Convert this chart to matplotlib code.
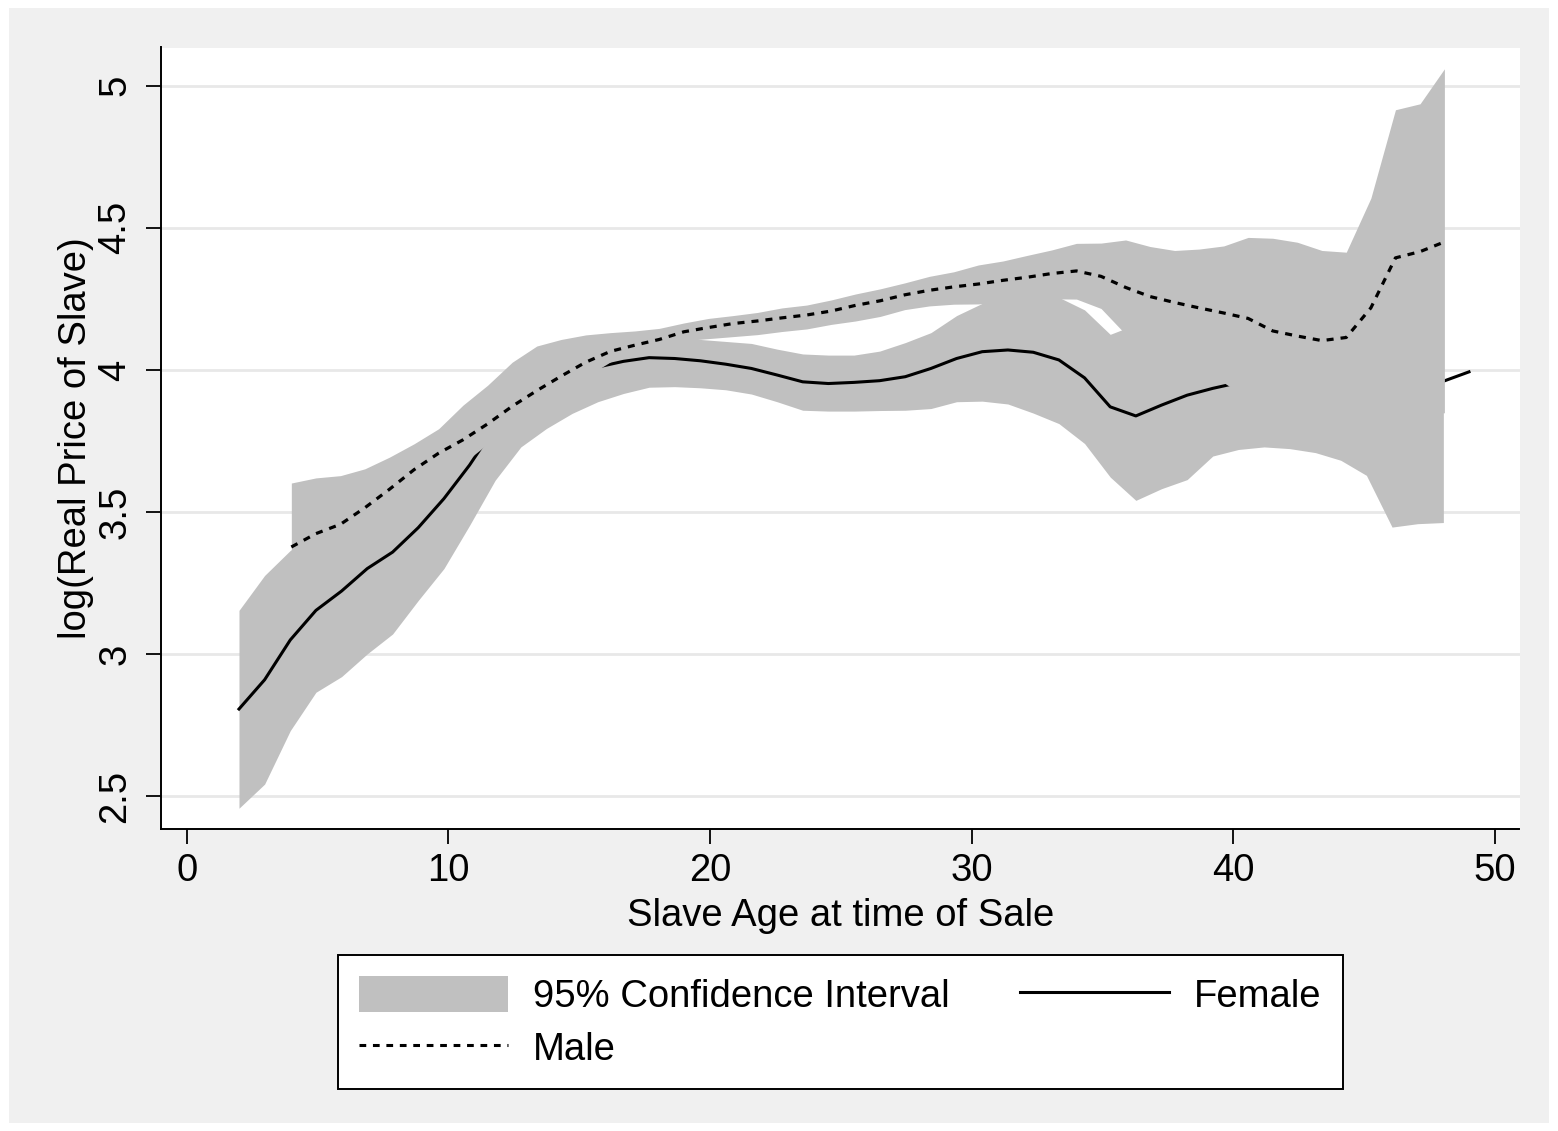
import numpy as np
import matplotlib
matplotlib.use("Agg")
import matplotlib.pyplot as plt
from matplotlib.patches import Rectangle, Patch
from matplotlib.lines import Line2D

plt.rcParams['font.family'] = ['Liberation Sans', 'DejaVu Sans']

# female fit and 95% CI (lpoly grid points)
female_age = [2.00, 2.98, 3.96, 4.94, 5.92, 6.90, 7.87, 8.85, 9.83, 10.81, 11.79, 12.77,
              13.75, 14.73, 15.71, 16.69, 17.67, 18.65, 19.63, 20.60, 21.58, 22.56, 23.54,
              24.52, 25.50, 26.48, 27.46, 28.44, 29.42, 30.40, 31.38, 32.35, 33.33, 34.31,
              35.29, 36.27, 37.25, 38.23, 39.21, 40.19, 41.17, 42.15, 43.13, 44.10, 45.08,
              46.06, 47.04, 48.02, 49.00]
female_fit = [2.807, 2.910, 3.050, 3.154, 3.222, 3.301, 3.359, 3.445, 3.547, 3.665, 3.800, 3.880,
              3.940, 3.980, 4.010, 4.030, 4.043, 4.040, 4.032, 4.020, 4.005, 3.982, 3.958,
              3.952, 3.956, 3.962, 3.976, 4.005, 4.040, 4.064, 4.070, 4.062, 4.035, 3.972,
              3.870, 3.838, 3.876, 3.911, 3.935, 3.955, 3.960, 3.960, 3.955, 3.950, 3.950,
              3.952, 3.956, 3.960, 3.993]
female_lo = [2.458, 2.543, 2.731, 2.866, 2.921, 3.001, 3.071, 3.189, 3.301, 3.453, 3.612, 3.729,
             3.794, 3.847, 3.888, 3.917, 3.939, 3.941, 3.937, 3.930, 3.915, 3.888, 3.858,
             3.855, 3.855, 3.857, 3.858, 3.864, 3.888, 3.890, 3.880, 3.848, 3.811, 3.741,
             3.623, 3.541, 3.582, 3.614, 3.697, 3.720, 3.729, 3.723, 3.709, 3.682, 3.629,
             3.447, 3.459, 3.463, np.nan]
female_hi = [3.154, 3.277, 3.365, 3.42, 3.50, 3.57, 3.62, 3.68, 3.76, 3.85, 3.95, 4.01,
             4.05, 4.08, 4.10, 4.11, 4.115, 4.112, 4.107, 4.100, 4.093, 4.073, 4.056,
             4.052, 4.052, 4.066, 4.096, 4.131, 4.191, 4.234, 4.26, 4.27, 4.255, 4.211,
             4.125, 4.16, 4.19, 4.21, 4.22, 4.23, 4.24, 4.24, 4.24, 4.24, 4.25,
             4.27, 4.29, 4.30, np.nan]

# male fit and 95% CI
male_age = [4.00, 4.94, 5.88, 6.81, 7.75, 8.69, 9.63, 10.56, 11.50, 12.44, 13.38, 14.31,
            15.25, 16.19, 17.13, 18.06, 19.00, 19.94, 20.88, 21.81, 22.75, 23.69, 24.63,
            25.56, 26.50, 27.44, 28.38, 29.31, 30.25, 31.19, 32.13, 33.06, 34.00, 34.94,
            35.88, 36.81, 37.75, 38.69, 39.63, 40.56, 41.50, 42.44, 43.38, 44.31, 45.25,
            46.19, 47.13, 48.06]
male_fit = [3.377, 3.424, 3.457, 3.515, 3.580, 3.649, 3.707, 3.754, 3.810, 3.872, 3.927, 3.978,
            4.027, 4.065, 4.087, 4.107, 4.134, 4.149, 4.163, 4.172, 4.183, 4.193, 4.207,
            4.227, 4.243, 4.264, 4.280, 4.292, 4.302, 4.315, 4.326, 4.339, 4.348, 4.329,
            4.290, 4.258, 4.237, 4.218, 4.200, 4.181, 4.137, 4.119, 4.103, 4.114, 4.218,
            4.394, 4.416, 4.450]
male_lo = [3.15, 3.23, 3.29, 3.38, 3.47, 3.56, 3.62, 3.67, 3.74, 3.80, 3.86, 3.91,
           3.975, 4.028, 4.075, 4.095, 4.103, 4.110, 4.117, 4.124, 4.135, 4.144, 4.160,
           4.172, 4.188, 4.212, 4.225, 4.231, 4.232, 4.238, 4.243, 4.250, 4.249, 4.216,
           4.125, 4.05, 4.01, 3.98, 3.955, 3.90, 3.88, 3.87, 3.86, 3.86, 3.85,
           3.85, 3.85, 3.849]
male_hi = [3.602, 3.620, 3.628, 3.652, 3.693, 3.740, 3.793, 3.876, 3.946, 4.027, 4.084, 4.107,
           4.123, 4.131, 4.137, 4.146, 4.165, 4.181, 4.191, 4.202, 4.218, 4.228, 4.246,
           4.267, 4.285, 4.306, 4.329, 4.345, 4.369, 4.383, 4.403, 4.422, 4.445, 4.446,
           4.457, 4.434, 4.420, 4.425, 4.436, 4.466, 4.463, 4.449, 4.420, 4.414, 4.604,
           4.915, 4.936, 5.059]

x_ticks = [0, 10, 20, 30, 40, 50]
y_ticks = [2.5, 3, 3.5, 4, 4.5, 5]
y_tick_labels = ['2.5', '3', '3.5', '4', '4.5', '5']

band = '#c0c0c0'
outer = '#f0f0f0'
fs = 27.5

W, H = 1558, 1131
fig = plt.figure(figsize=(W / 100, H / 100), dpi=100)
fig.patch.set_facecolor('white')
fig.patches.append(Rectangle((9 / W, 8 / H), (W - 18) / W, (H - 16) / H,
                             transform=fig.transFigure, facecolor=outer,
                             edgecolor='none', zorder=-10))

ax = fig.add_axes([161 / W, 1 - 829 / H, (1519.5 - 161) / W, (829 - 47.5) / H])
ax.set_facecolor('white')

ax.fill_between(female_age, female_lo, female_hi, color=band, linewidth=0, zorder=2)
ax.plot(female_age, female_fit, color='black', lw=2.2, zorder=3)
ax.fill_between(male_age, male_lo, male_hi, color=band, linewidth=0, zorder=4)
ax.plot(male_age, male_fit, color='black', lw=2.3, dashes=(2.2, 2.2),
        dash_capstyle='butt', zorder=5)

ax.set_xlim(-0.98, 50.93)
ax.set_ylim(2.385, 5.134)
ax.set_xticks(x_ticks)
ax.set_yticks(y_ticks)
ax.set_yticklabels(y_tick_labels, rotation=90, va='center')
ax.grid(axis='y', color='#e8e8e8', lw=2.0, zorder=0)
ax.set_axisbelow(True)

for s in ['top', 'right']:
    ax.spines[s].set_visible(False)
for s in ['left', 'bottom']:
    ax.spines[s].set_linewidth(1.4)
ax.tick_params(direction='out', length=11, width=1.3, labelsize=fs, colors='black')
ax.tick_params(axis='x', pad=6)
ax.tick_params(axis='y', pad=9)

ax.set_xlabel('Slave Age at time of Sale', fontsize=fs, labelpad=7)
ax.set_ylabel('log(Real Price of Slave)', fontsize=fs, labelpad=2)

handles = [Patch(facecolor=band, edgecolor='none'),
           Line2D([], [], color='black', lw=2.2, dashes=(2.2, 2.2), dash_capstyle='butt'),
           Line2D([], [], color='black', lw=2.2)]
labels = ['95% Confidence Interval', 'Male', 'Female']
leg = fig.legend(handles, labels, ncol=2, loc='upper center',
                 bbox_to_anchor=(840.5 / W, 1 - 955 / H), fontsize=fs,
                 frameon=True, fancybox=False, edgecolor='black', framealpha=1,
                 handlelength=3.9, handleheight=1.08, handletextpad=0.66,
                 columnspacing=1.84, borderpad=0.55, labelspacing=0.37,
                 borderaxespad=0)
leg.get_frame().set_linewidth(1.4)

fig.savefig('out.png', dpi=100)
